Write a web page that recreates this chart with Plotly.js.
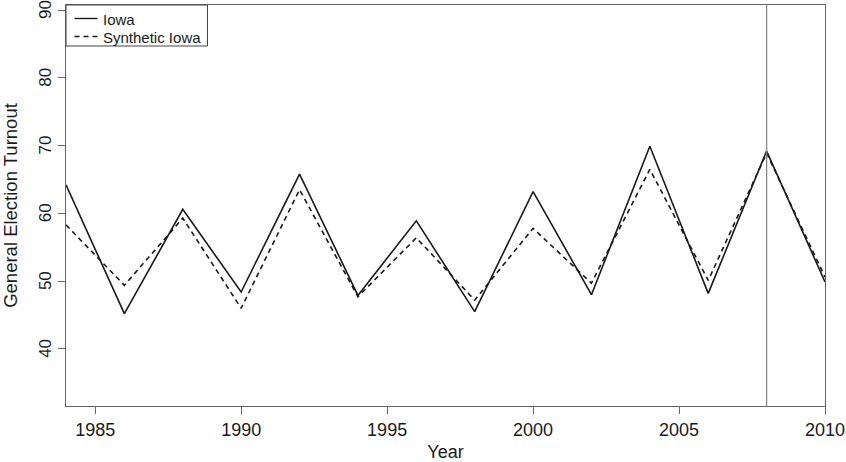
<!DOCTYPE html>
<html>
<head>
<meta charset="utf-8">
<script src="https://cdn.plot.ly/plotly-3.0.1.min.js"></script>
<style>html,body{margin:0;padding:0;background:#fff;}#chart{width:846px;height:462px;}</style>
</head>
<body>
<div id="chart"></div>
<script>
const years = [1984,1986,1988,1990,1992,1994,1996,1998,2000,2002,2004,2006,2008,2010];
const iowa = [64.2,45.2,60.6,48.4,65.8,47.9,58.9,45.5,63.2,48.0,69.9,48.2,69.2,49.9];
const synthetic = [58.3,49.4,59.3,46.0,63.5,47.7,56.4,47.2,57.8,49.7,66.5,50.1,68.9,50.6];
const seriesNames = ["Iowa","Synthetic Iowa"];
const xTicks = [1985,1990,1995,2000,2005,2010];
const yTicks = [40,50,60,70,80,90];
const treatmentYear = 2008;

const font = "Liberation Sans, Arial, Helvetica, sans-serif";
const ink = "#1a1a1a";
const dashPattern = "5px,4px";
const traces = [
  {x: years, y: iowa, name: seriesNames[0], type: "scatter", mode: "lines",
   line: {color: ink, width: 1.6}, showlegend: false},
  {x: years, y: synthetic, name: seriesNames[1], type: "scatter", mode: "lines",
   line: {color: ink, width: 1.6, dash: dashPattern}, showlegend: false}
];

// Manual legend (R-style box legend in the top-left corner), in paper coordinates
const plotW = 846 - 66 - 21, plotH = 462 - 5 - 56;
const px = v => v / plotW;            // horizontal pixels -> paper fraction
const py = v => 1 - v / plotH;        // vertical pixels from top -> paper fraction
const legendRows = [13.5, 31.5];
const legendShapes = [
  {type: "rect", xref: "paper", yref: "paper", x0: 0, x1: px(141.5), y0: py(41), y1: 1,
   line: {color: "#444", width: 1}, fillcolor: "#fff", layer: "above"}
];
const legendAnn = [];
seriesNames.forEach((nm, i) => {
  legendShapes.push({type: "line", xref: "paper", yref: "paper",
    x0: px(8.5), x1: px(31.5), y0: py(legendRows[i]), y1: py(legendRows[i]),
    line: {color: ink, width: 1.4, dash: i === 0 ? "solid" : dashPattern}, layer: "above"});
  legendAnn.push({xref: "paper", yref: "paper", x: px(35), y: py(legendRows[i] + 1),
    xanchor: "left", yanchor: "middle", showarrow: false, text: nm,
    font: {size: 15, family: font, color: ink}});
});

const layout = {
  width: 846, height: 462,
  margin: {l: 66, r: 21, t: 5, b: 56},
  paper_bgcolor: "#fff", plot_bgcolor: "#fff",
  font: {family: font, color: ink, size: 18},
  showlegend: false,
  xaxis: {range: [1984, 2010], tickvals: xTicks, ticktext: xTicks.map(String),
    showgrid: false, zeroline: false, showline: true, mirror: true,
    linecolor: "#666", linewidth: 1.2, ticks: "outside", ticklen: 7, tickcolor: "#666",
    tickfont: {size: 18}, title: {text: "Year", font: {size: 18}, standoff: 9}},
  yaxis: {range: [31.58, 90.75], tickvals: yTicks, ticktext: yTicks.map(String),
    showgrid: false, zeroline: false, showline: true, mirror: true,
    linecolor: "#666", linewidth: 1.2, ticks: "outside", ticklen: 7, tickcolor: "#666",
    tickangle: -90, tickfont: {size: 17}, ticklabeloverflow: "allow", ticklabelshift: 2,
    title: {text: "General Election Turnout", font: {size: 18.5}, standoff: 15}},
  shapes: [{type: "line", xref: "x", yref: "paper", x0: treatmentYear, x1: treatmentYear,
    y0: 0, y1: 1, line: {color: "#888", width: 1.3}}].concat(legendShapes),
  annotations: legendAnn
};
Plotly.newPlot("chart", traces, layout, {staticPlot: true, displayModeBar: false});
</script>
</body>
</html>
